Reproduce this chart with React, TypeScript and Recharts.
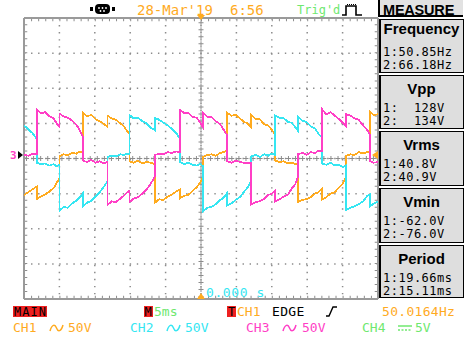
import { CartesianGrid, Line, LineChart, ReferenceLine, XAxis, YAxis } from "recharts";

// scope capture: 5 ms/div, 50 V/div, three phases
const timeMs = [
  -25.0, -24.4, -23.8, -23.2,
  -23.2, -22.6, -22.0, -21.4, -20.8, -20.4, -20.0,
  -20.0, -19.4, -18.8, -18.2, -17.6, -17.1, -16.7,
  -16.7, -16.1, -15.5, -14.9, -14.3, -13.7, -13.2,
  -13.2, -12.6, -12.0, -11.4, -10.9, -10.5, -10.1,
  -10.1, -9.5, -8.9, -8.3, -7.7, -7.1, -6.5,
  -6.5, -5.9, -5.3, -4.7, -4.1, -3.5, -3.0,
  -3.0, -2.4, -1.8, -1.2, -0.6, -0.1, 0.3,
  0.3, 0.9, 1.5, 2.1, 2.7, 3.2, 3.7,
  3.7, 4.3, 4.9, 5.5, 6.1, 6.6, 7.1,
  7.1, 7.7, 8.3, 8.9, 9.5, 10.0, 10.5,
  10.5, 11.1, 11.7, 12.3, 12.8, 13.3, 13.7,
  13.7, 14.3, 14.9, 15.5, 16.1, 16.6, 17.1,
  17.1, 17.7, 18.3, 18.9, 19.5, 20.0, 20.5,
  20.5, 21.1, 21.7, 22.3, 22.9, 23.4, 23.9,
  23.9, 24.4, 25.0,
];

const ch1 = [
  -52, -48, -44, -40,
  -58, -54, -51, -47, -42, -35, -28,
  3, 6, 5, 8, 7, 10, 9,
  66, 60, 62, 56, 53, 49, 45,
  61, 57, 55, 50, 46, 40, 35,
  -4, -6, -3, -7, -5, -6, -8,
  -63, -58, -59, -54, -51, -47, -44,
  -57, -53, -52, -46, -41, -34, -27,
  2, 5, 6, 4, 8, 9, 11,
  65, 61, 62, 57, 52, 50, 44,
  62, 56, 56, 49, 47, 41, 34,
  -3, -5, -4, -7, -6, -8, -7,
  -62, -59, -58, -55, -50, -48, -43,
  -58, -55, -50, -48, -41, -36, -26,
  4, 6, 5, 9, 7, 9, 10,
  66, 62, 63,
];

const ch2 = [
  47, 42, 36, 28,
  -6, -8, -7, -10, -8, -11, -9,
  -74, -69, -70, -64, -60, -55, -50,
  -68, -63, -60, -54, -48, -40, -32,
  2, 4, 3, 6, 5, 7, 6,
  62, 57, 58, 53, 50, 44, 40,
  58, 55, 51, 47, 42, 36, 29,
  -5, -8, -6, -9, -10, -8, -11,
  -75, -70, -69, -65, -59, -56, -49,
  -67, -64, -59, -55, -47, -41, -31,
  3, 5, 2, 6, 4, 7, 5,
  61, 58, 57, 52, 51, 45, 39,
  59, 54, 52, 46, 43, 35, 30,
  -7, -9, -6, -10, -9, -12, -10,
  -73, -70, -68, -65, -61, -54, -51,
  -68, -64, -61,
];

const ch3 = [
  5, 4, 7, 6,
  70, 64, 66, 60, 57, 50, 45,
  64, 60, 58, 54, 48, 40, 32,
  -3, -5, -2, -6, -4, -7, -5,
  -66, -61, -62, -57, -53, -49, -46,
  -62, -57, -55, -50, -44, -36, -25,
  5, 7, 6, 9, 8, 10, 9,
  69, 65, 65, 59, 58, 51, 44,
  65, 59, 59, 53, 49, 41, 33,
  -4, -6, -3, -5, -6, -7, -6,
  -65, -62, -61, -58, -52, -50, -45,
  -61, -58, -54, -51, -43, -37, -26,
  6, 8, 5, 9, 8, 11, 10,
  70, 63, 66, 61, 56, 51, 46,
  63, 61, 57, 55, 47, 42, 33,
  -4, -6, -5,
];

const timeTicks = [-25, -20, -15, -10, -5, 0, 5, 10, 15, 20, 25];
const voltTicks = [-200, -150, -100, -50, 0, 50, 100, 150, 200];

const measureTitles = ["Frequency", "Vpp", "Vrms", "Vmin", "Period"];
const measureCh1 = ["1:50.85Hz", "1:  128V", "1:40.8V", "1:-62.0V", "1:19.66ms"];
const measureCh2 = ["2:66.18Hz", "2:  134V", "2:40.9V", "2:-76.0V", "2:15.11ms"];

const ORANGE = "#ffab1f";
const CYAN = "#35e6f2";
const MAGENTA = "#ff3fc6";
const GREEN = "#6fe86f";
const RED = "#ee2020";
const GRID = "#8c8c8c";
const MONO = '"DejaVu Sans Mono", monospace';
const SANS = '"Liberation Sans", Arial, sans-serif';

const rows = timeMs.map((t, i) => ({ t, ch1: ch1[i], ch2: ch2[i], ch3: ch3[i] }));

function Txt({ x, mid, size = 13, color = "#000", bold = false, family = MONO, spacing = 0, children }: any) {
  return (
    <div
      style={{
        position: "absolute",
        left: x,
        top: mid - 0.49 * size,
        fontFamily: family,
        fontSize: size,
        lineHeight: `${size}px`,
        color,
        fontWeight: bold ? 700 : 400,
        letterSpacing: spacing,
        whiteSpace: "pre",
      }}
    >
      {children}
    </div>
  );
}

function Box({ x, y, w, h, color }: any) {
  return <div style={{ position: "absolute", left: x, top: y, width: w, height: h, background: color }} />;
}

function Tri({ x, y, points, color }: any) {
  return (
    <svg style={{ position: "absolute", left: x, top: y }} width={9} height={9}>
      <polygon points={points} fill={color} />
    </svg>
  );
}

function Wave({ x, mid, color }: any) {
  return (
    <svg style={{ position: "absolute", left: x, top: mid - 5 }} width={15} height={10}>
      <path d="M1 8 C3 1, 6 1, 7.5 5 S12 9, 14 2" fill="none" stroke={color} strokeWidth={1.5} />
    </svg>
  );
}

function Dc({ x, mid, color }: any) {
  return (
    <svg style={{ position: "absolute", left: x, top: mid - 5 }} width={15} height={10}>
      <line x1={0} y1={3} x2={14} y2={3} stroke={color} strokeWidth={1.5} />
      <line x1={0} y1={7} x2={14} y2={7} stroke={color} strokeWidth={1.5} strokeDasharray="2 1.5" />
    </svg>
  );
}

const boxTops = [19, 75, 131, 188, 245];
const boxHeights = [54, 54, 55, 55, 53];

export default function App() {
  return (
    <div style={{ position: "fixed", left: 0, top: 0, width: 465, height: 342, background: "#fff", overflow: "hidden" }}>
      <LineChart width={465} height={342} data={rows} margin={{ top: 18, right: 87, bottom: 43, left: 24 }}>
        <XAxis dataKey="t" type="number" domain={[-25, 25]} ticks={timeTicks} allowDataOverflow hide />
        <YAxis type="number" domain={[-200, 200]} ticks={voltTicks} allowDataOverflow hide />
        <CartesianGrid stroke={GRID} strokeWidth={1.5} strokeDasharray="1.4 5.65" />
        {/* centre crosses */}
        <ReferenceLine x={0} stroke={GRID} strokeWidth={1} strokeDasharray="5 2.02" />
        <ReferenceLine x={0} stroke={GRID} strokeWidth={5} strokeDasharray="1 6.02" strokeDashoffset={-2} />
        <ReferenceLine y={0} stroke={GRID} strokeWidth={1} strokeDasharray="5 2.08" />
        <ReferenceLine y={0} stroke={GRID} strokeWidth={5} strokeDasharray="1 6.08" strokeDashoffset={-2} />
        {/* border with minor ticks */}
        <ReferenceLine x={-24.75} stroke={GRID} strokeWidth={3} strokeDasharray="1 6.02" />
        <ReferenceLine x={24.75} stroke={GRID} strokeWidth={3} strokeDasharray="1 6.02" />
        <ReferenceLine y={197.5} stroke={GRID} strokeWidth={3} strokeDasharray="1 6.08" />
        <ReferenceLine y={-197.5} stroke={GRID} strokeWidth={3} strokeDasharray="1 6.08" />
        <ReferenceLine x={-25} stroke="#9a9a9a" strokeWidth={2} />
        <ReferenceLine x={25} stroke="#9a9a9a" strokeWidth={2} />
        <ReferenceLine y={200} stroke="#9a9a9a" strokeWidth={2} />
        <ReferenceLine y={-200} stroke="#9a9a9a" strokeWidth={2} />
        <Line dataKey="ch1" type="linear" stroke={ORANGE} strokeWidth={1.8} dot={false} isAnimationActive={false} shapeRendering="crispEdges" />
        <Line dataKey="ch2" type="linear" stroke={CYAN} strokeWidth={1.8} dot={false} isAnimationActive={false} shapeRendering="crispEdges" />
        <Line dataKey="ch3" type="linear" stroke={MAGENTA} strokeWidth={1.8} dot={false} isAnimationActive={false} shapeRendering="crispEdges" />
      </LineChart>

      {/* top bar */}
      <svg style={{ position: "absolute", left: 89, top: 3 }} width={28} height={12}>
        <rect x={1} y={4} width={3} height={4} fill="#000" />
        <rect x={6} y={1} width={15} height={10} rx={4} fill="#000" />
        <circle cx={10} cy={5} r={0.9} fill="#fff" />
        <circle cx={13.5} cy={5} r={0.9} fill="#fff" />
        <circle cx={17} cy={5} r={0.9} fill="#fff" />
        <circle cx={11.5} cy={8} r={0.9} fill="#fff" />
        <circle cx={15} cy={8} r={0.9} fill="#fff" />
        <rect x={23} y={4} width={3} height={4} fill="#000" />
      </svg>
      <Txt x={137} mid={10} size={14} color={ORANGE}>28-Mar'19</Txt>
      <Txt x={230} mid={10} size={14} color={ORANGE}>6:56</Txt>
      <Txt x={297} mid={10} size={12} color={GREEN}>Trig'd</Txt>
      <svg style={{ position: "absolute", left: 341, top: 3 }} width={22} height={13}>
        <polyline points="1,12 5,12 5,3 15,3 15,12 21,12" fill="none" stroke="#000" strokeWidth={1.6} />
        <line x1={6} y1={1.5} x2={15} y2={1.5} stroke="#000" strokeWidth={1} strokeDasharray="1 1" />
      </svg>

      {/* trigger markers */}
      <Tri x={197} y={15} points="0,0 8,0 4,5" color={ORANGE} />
      <Tri x={197} y={293} points="4,0 8,6 0,6" color={ORANGE} />
      <Tri x={371} y={151} points="7,0 7,8 1,4" color={ORANGE} />
      <Txt x={10} mid={155} size={11} color={MAGENTA} bold>3</Txt>
      <Tri x={18} y={151} points="0,0 5,4 0,8" color="#000" />
      <Txt x={206} mid={292} size={13} color={CYAN} spacing={0.6}>0.000 s</Txt>

      {/* measure panel */}
      <div style={{ position: "absolute", left: 378, top: 0, width: 85, height: 17, borderLeft: "2px solid #000", borderBottom: "2px solid #000", background: "#e2e2e2", boxSizing: "border-box" }} />
      <Txt x={383} mid={10} size={14.5} bold family={SANS} spacing={-0.2}>MEASURE</Txt>
      {measureTitles.map((title, i) => (
        <div key={title}>
          <div
            style={{
              position: "absolute",
              left: 379,
              top: boxTops[i],
              width: 85,
              height: boxHeights[i],
              border: "1.5px solid #000",
              borderLeftWidth: 2,
              background: "#dedede",
              boxSizing: "border-box",
            }}
          />
          <div
            style={{
              position: "absolute",
              left: 379,
              width: 85,
              top: boxTops[i] + (i === 0 ? 9 : 13) - 0.49 * 15,
              textAlign: "center",
              fontFamily: SANS,
              fontWeight: 700,
              fontSize: 15,
              lineHeight: "15px",
              color: "#000",
            }}
          >
            {title}
          </div>
          <Txt x={383} mid={boxTops[i] + 33} size={12} spacing={0.5}>{measureCh1[i]}</Txt>
          <Txt x={383} mid={boxTops[i] + 46} size={12} spacing={0.5}>{measureCh2[i]}</Txt>
        </div>
      ))}

      {/* status rows */}
      <Box x={13} y={306} w={34} h={11} color={RED} />
      <Txt x={14} mid={311.5} size={12} spacing={1}>MAIN</Txt>
      <Box x={144} y={306} w={9} h={11} color={RED} />
      <Txt x={144.5} mid={311.5} size={12}>M</Txt>
      <Txt x={154} mid={311.5} size={13} color={GREEN}>5ms</Txt>
      <Box x={227} y={306} w={9} h={11} color={RED} />
      <Txt x={228} mid={311.5} size={12}>T</Txt>
      <Txt x={237} mid={311.5} size={13} color={ORANGE}>CH1</Txt>
      <Txt x={272} mid={311.5} size={13} spacing={0.3}>EDGE</Txt>
      <svg style={{ position: "absolute", left: 325, top: 305 }} width={13} height={12}>
        <polyline points="1,11 4,11 8,2 12,2" fill="none" stroke="#000" strokeWidth={1.4} />
      </svg>
      <Txt x={382} mid={311.5} size={13} color={ORANGE} spacing={0.3}>50.0164Hz</Txt>

      <Txt x={13} mid={327.5} size={13} color={ORANGE}>CH1</Txt>
      <Wave x={49} mid={327.5} color={ORANGE} />
      <Txt x={68} mid={327.5} size={13} color={ORANGE}>50V</Txt>
      <Txt x={130} mid={327.5} size={13} color={CYAN}>CH2</Txt>
      <Wave x={166} mid={327.5} color={CYAN} />
      <Txt x={185} mid={327.5} size={13} color={CYAN}>50V</Txt>
      <Txt x={246} mid={327.5} size={13} color={MAGENTA}>CH3</Txt>
      <Wave x={282} mid={327.5} color={MAGENTA} />
      <Txt x={302} mid={327.5} size={13} color={MAGENTA}>50V</Txt>
      <Txt x={362} mid={327.5} size={13} color={GREEN}>CH4</Txt>
      <Dc x={398} mid={327.5} color={GREEN} />
      <Txt x={415} mid={327.5} size={13} color={GREEN}>5V</Txt>
    </div>
  );
}
